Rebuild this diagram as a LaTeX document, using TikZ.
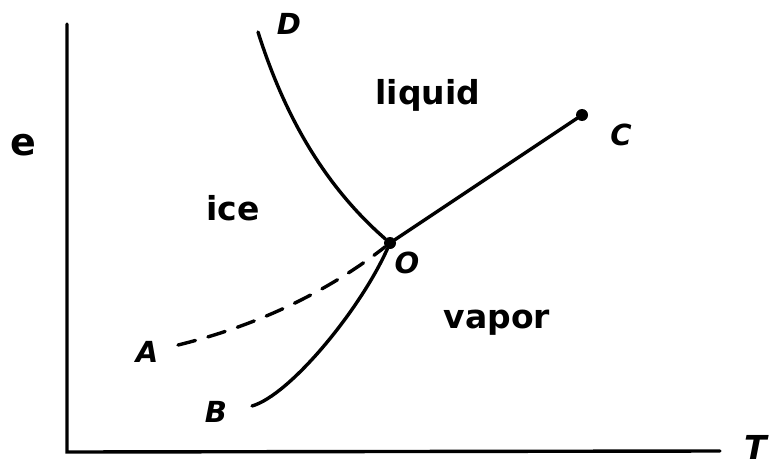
\documentclass[tikz,border=0pt]{standalone}
\usepackage{fontspec}
\setmainfont{DejaVu Sans}
\usetikzlibrary{positioning}
\begin{document}
\begin{tikzpicture}[x=1pt,y=-1pt,
  every node/.style={align=center},
  curve/.style={line width=3.4pt, line cap=round},
  phase/.style={font=\fontsize{33}{33}\selectfont\bfseries},
  ptlabel/.style={font=\fontsize{29}{29}\selectfont\bfseries\itshape},
  dotpt/.style={circle, fill, inner sep=0pt, minimum size=12pt}]
  \useasboundingbox (0,0) rectangle (778,468);

  % axes
  \coordinate (top)  at (67,24);
  \coordinate (orig) at (67,452);
  \coordinate (tend) at (720,451);
  \draw[curve] (top) -- (orig) -- (tend);
  \node[ptlabel, font=\fontsize{33}{33}\selectfont\bfseries\itshape] (axT) at (756,447) {T};
  \node[phase, font=\fontsize{38}{38}\selectfont\bfseries] (axe) at (23,145) {e};

  % triple point and critical point
  \node[dotpt] (O) at (390,243) {};
  \node[dotpt] (C) at (582,115) {};
  \coordinate (D) at (258,32);
  \coordinate (B) at (252,406);
  \coordinate (A) at (178,345);

  % phase boundaries
  \draw[curve] (D) .. controls (282,108) and (320,182) .. (O);
  \draw[curve] (B) .. controls (290,395) and (360,310) .. (O);
  \draw[curve] (O) -- (C);
  \draw[curve, dash pattern=on 18pt off 13pt] (A) .. controls (260,325) and (330,290) .. (O);

  % point labels
  \node[ptlabel] (lblD) at (289,24)  {D};
  \node[ptlabel] (lblO) at (407,263) {O};
  \node[ptlabel] (lblC) at (621,135) {C};
  \node[ptlabel] (lblA) at (147,352) {A};
  \node[ptlabel] (lblB) at (216,412) {B};

  % phase regions
  \node[phase] (ice)    at (233,208) {ice};
  \node[phase] (liquid) at (428,95)  {liquid};
  \node[phase] (vapor)  at (497,323) {vapor};
\end{tikzpicture}
\end{document}
